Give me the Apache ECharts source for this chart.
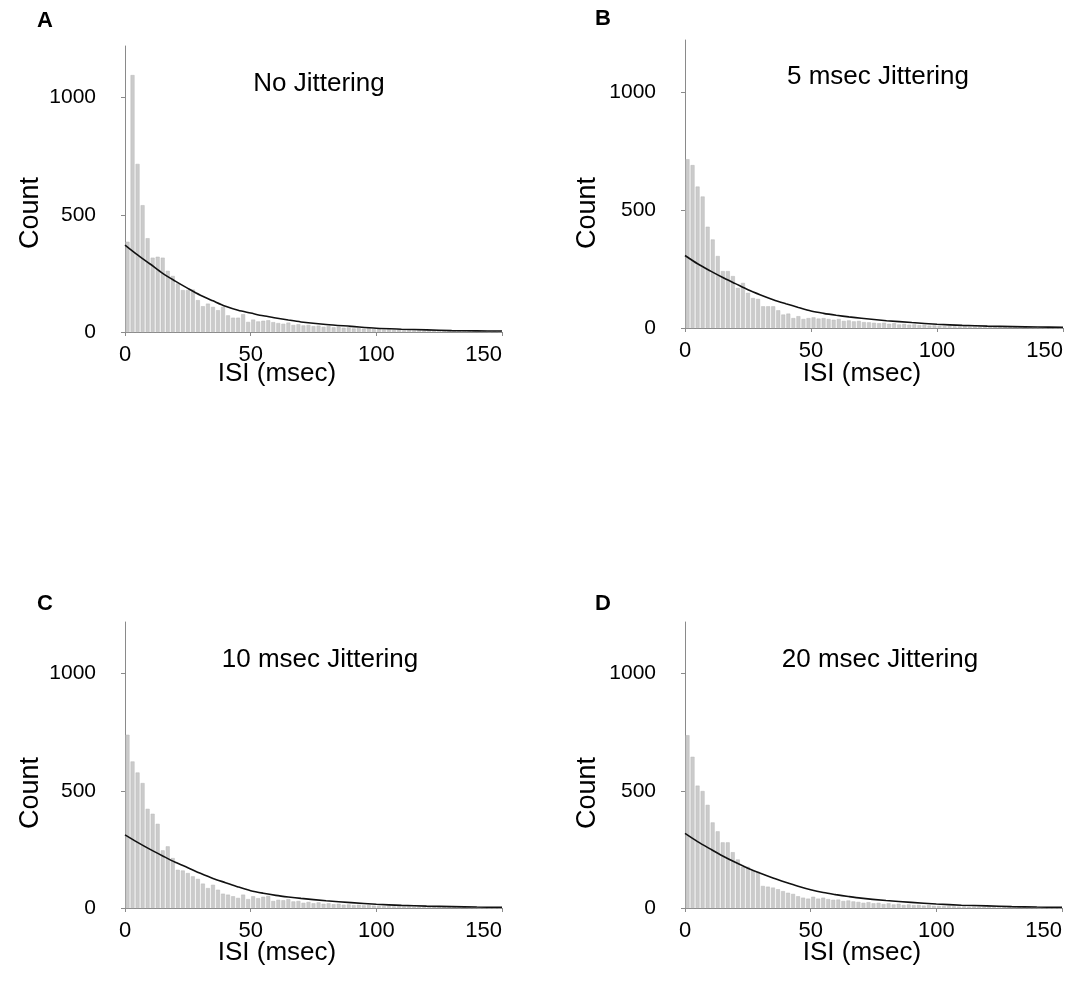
<!DOCTYPE html>
<html>
<head>
<meta charset="utf-8">
<script src="https://cdn.jsdelivr.net/npm/echarts@6/dist/echarts.min.js"></script>
<style>
  html, body { margin: 0; padding: 0; background: #fff; }
  #chart { width: 1090px; height: 992px; }
</style>
</head>
<body>
<div id="chart"></div>
<script>
// ISI histograms, 2 msec bins from 0 to 150 msec
const binWidth = 2;
const binCenters = Array.from({ length: 75 }, (_, i) => i * binWidth + binWidth / 2);

const countsNoJitter = [
  385, 1096, 717, 541, 400, 317, 321, 317, 261, 239, 207, 179, 179, 181, 136, 110, 121, 107, 93, 107, 71, 61, 61, 76, 43,
  53, 45, 48, 50, 42, 38, 35, 40, 30, 33, 28, 30, 25, 27, 22, 25, 20, 22, 18, 20, 15, 17, 14, 16, 12,
  12, 10, 11, 9, 10, 8, 9, 7, 8, 6, 7, 6, 5, 6, 5, 4, 5, 4, 3, 4, 3, 3, 2, 3, 2
];
const counts5ms = [
  715, 690, 599, 557, 429, 375, 305, 241, 241, 220, 170, 191, 149, 127, 123, 92, 92, 92, 75, 57, 61, 42, 50, 38, 42,
  45, 40, 42, 38, 35, 38, 30, 32, 28, 30, 25, 24, 22, 20, 22, 18, 20, 15, 17, 14, 15, 12, 13, 10, 11,
  9, 8, 8, 7, 6, 7, 5, 6, 5, 4, 5, 4, 3, 4, 3, 3, 2, 3, 2, 2, 2, 1, 2, 1, 1
];
const counts10ms = [
  739, 625, 578, 533, 423, 402, 359, 246, 263, 213, 163, 160, 149, 135, 124, 104, 85, 99, 78, 61, 57, 50, 43, 57, 38,
  50, 42, 48, 52, 30, 35, 33, 38, 28, 30, 22, 26, 20, 24, 18, 20, 16, 18, 14, 15, 12, 14, 11, 12, 10,
  9, 8, 9, 7, 7, 6, 6, 5, 5, 4, 5, 4, 3, 4, 3, 3, 2, 3, 2, 2, 1, 2, 1, 1, 1
];
const counts20ms = [
  737, 645, 522, 499, 440, 365, 327, 280, 280, 238, 207, 176, 176, 158, 155, 94, 91, 87, 80, 72, 65, 60, 50, 44, 40,
  48, 40, 44, 38, 35, 36, 30, 32, 28, 26, 22, 25, 20, 22, 17, 20, 15, 18, 13, 15, 12, 13, 10, 12, 9,
  9, 8, 8, 7, 6, 7, 5, 6, 5, 4, 5, 4, 3, 4, 3, 2, 3, 2, 2, 2, 1, 2, 1, 1, 1
];

// exponential fit curves, sampled along the ISI axis
const fitX = [0, 5, 10, 15, 20, 25, 30, 35, 40, 45, 50, 55, 60, 65, 70, 80, 90, 100, 110, 120, 130, 140, 150];
const fitNoJitter = [371, 329, 290, 250, 217, 186, 157, 133, 110, 93, 81, 69, 60, 51, 43, 32, 24, 16, 12, 9, 6, 5, 4];
const fit5ms = [307, 272, 242, 214, 188, 162, 140, 120, 103, 87, 72, 62, 54, 47, 41, 31, 23, 16, 11, 8, 6, 4, 3];
const fit10ms = [312, 280, 250, 222, 195, 172, 148, 126, 108, 90, 74, 63, 54, 47, 41, 31, 23, 16, 11, 8, 6, 4, 3];
const fit20ms = [318, 283, 252, 222, 195, 170, 148, 128, 110, 93, 78, 66, 57, 49, 42, 32, 24, 17, 12, 9, 6, 4, 3];

const xTicks = [0, 50, 100, 150];
const yTicks = [0, 500, 1000];

const panelLetters = ['A', 'B', 'C', 'D'];
const panelTitles = ['No Jittering', '5 msec Jittering', '10 msec Jittering', '20 msec Jittering'];
const xTitle = 'ISI (msec)';
const yTitle = 'Count';

const histograms = [countsNoJitter, counts5ms, counts10ms, counts20ms];
const fits = [fitNoJitter, fit5ms, fit10ms, fit20ms];

// panel layout (pixels)
const grids = [
  { left: 125, top: 46, width: 377, height: 286 },
  { left: 685, top: 40, width: 378, height: 288 },
  { left: 125, top: 622, width: 377, height: 286 },
  { left: 685, top: 622, width: 377, height: 286 }
];
const letterPos = [[45, 21], [603, 19], [45, 604], [603, 604]];
const titlePos = [[319, 84], [878, 77], [320, 660], [880, 660]];
const yTitlePos = [[31, 213], [588, 213], [31, 793], [588, 793]];
const xTitlePos = [[277, 374], [862, 374], [277, 953], [862, 953]];

const FONT = 'Liberation Sans, Arial, sans-serif';
const axisGray = '#8a8a8a';

const option = {
  animation: false,
  backgroundColor: '#ffffff',
  grid: grids.map(g => Object.assign({ containLabel: false }, g)),
  xAxis: grids.map((g, i) => ({
    type: 'value',
    gridIndex: i,
    min: 0,
    max: 150,
    interval: 50,
    axisLine: { show: true, onZero: false, lineStyle: { color: axisGray, width: 1 } },
    axisTick: { show: true, length: 4, lineStyle: { color: axisGray }, customValues: xTicks },
    axisLabel: {
      color: '#000', fontSize: 22, fontFamily: FONT, margin: 12,
      customValues: xTicks, alignMaxLabel: 'right',
      formatter: v => String(v)
    },
    splitLine: { show: false }
  })),
  yAxis: grids.map((g, i) => ({
    type: 'value',
    gridIndex: i,
    min: 0,
    max: 1220,
    interval: 500,
    axisLine: { show: true, lineStyle: { color: axisGray, width: 1 } },
    axisTick: { show: true, length: 4, lineStyle: { color: axisGray }, customValues: yTicks },
    axisLabel: {
      color: '#000', fontSize: 21, fontFamily: FONT, margin: 29, customValues: yTicks,
      formatter: v => String(v)
    },
    splitLine: { show: false }
  })),
  series: [].concat(
    histograms.map((h, i) => ({
      type: 'bar',
      xAxisIndex: i,
      yAxisIndex: i,
      data: binCenters.map((c, k) => [c, h[k]]),
      barWidth: '78%',
      itemStyle: { color: '#cbcbcb', borderColor: '#b9b9b9', borderWidth: 0.5 },
      silent: true
    })),
    fits.map((f, i) => ({
      type: 'line',
      xAxisIndex: i,
      yAxisIndex: i,
      data: fitX.map((x, k) => [x, f[k]]),
      smooth: 0.3,
      showSymbol: false,
      lineStyle: { color: '#111', width: 1.6 },
      z: 5,
      silent: true
    }))
  ),
  graphic: [].concat(
    panelLetters.map((t, i) => ({
      type: 'text', x: letterPos[i][0], y: letterPos[i][1],
      style: { text: t, fontFamily: FONT, fontSize: 22, fontWeight: 'bold', fill: '#000', align: 'center', verticalAlign: 'middle' }
    })),
    panelTitles.map((t, i) => ({
      type: 'text', x: titlePos[i][0], y: titlePos[i][1],
      style: { text: t, fontFamily: FONT, fontSize: 26, fill: '#000', align: 'center', verticalAlign: 'middle' }
    })),
    yTitlePos.map(p => ({
      type: 'text', x: p[0], y: p[1], rotation: Math.PI / 2,
      style: { text: yTitle, fontFamily: FONT, fontSize: 27, fill: '#000', align: 'center', verticalAlign: 'middle' }
    })),
    xTitlePos.map(p => ({
      type: 'text', x: p[0], y: p[1],
      style: { text: xTitle, fontFamily: FONT, fontSize: 26, fill: '#000', align: 'center', verticalAlign: 'middle' }
    }))
  )
};

const chart = echarts.init(document.getElementById('chart'), null, { renderer: 'canvas' });
chart.setOption(option);
</script>
</body>
</html>
